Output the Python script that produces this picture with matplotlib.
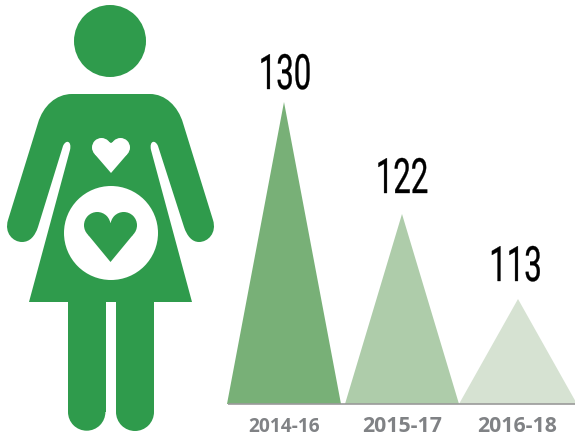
import matplotlib
matplotlib.use("Agg")
import matplotlib.pyplot as plt
from matplotlib.patches import Circle, PathPatch, Polygon, Rectangle
from matplotlib.patheffects import AbstractPathEffect
from matplotlib.path import Path
from matplotlib.transforms import Affine2D

# Data
periods = ["2014-16", "2015-17", "2016-18"]
values = [130, 122, 113]
# drawn heights of the triangles, not proportional to the values in the original
heights = [302, 190, 105]
centers = [284, 402, 518]
half_widths = [57, 57, 59]
colors = ["#78b077", "#aeccaa", "#d6e2d2"]

# text placement
number_x = [285, 402, 515.5]
number_y = [89, 193, 281]
label_x = [284, 402, 517]
label_y = [427, 426, 426]
label_sizes = [13.8, 15.3, 15.3]

green = "#2f9b4c"

fig = plt.figure(figsize=(5.75, 4.42), dpi=100)
ax = fig.add_axes([0, 0, 1, 1])
ax.set_xlim(0, 575)
ax.set_ylim(442, 0)
ax.axis("off")


# squeezes text sideways, the numbers in the original are a condensed face
class Squeeze(AbstractPathEffect):
    def __init__(self, cx, sx, lw):
        super().__init__()
        self.cx = cx
        self.sx = sx
        self.lw = lw

    def draw_path(self, renderer, gc, tpath, affine, rgbFace=None):
        squeeze = Affine2D().translate(-self.cx, 0).scale(self.sx, 1).translate(self.cx, 0)
        gc.set_linewidth(self.lw)
        gc.set_foreground("black")
        renderer.draw_path(gc, tpath, affine + squeeze, rgbFace)


def heart(cx, top, notch, bottom, half, color):
    r = half / 2
    cy = top + r
    ax.add_patch(Circle((cx - r, cy), r, fc=color, ec="none", zorder=5))
    ax.add_patch(Circle((cx + r, cy), r, fc=color, ec="none", zorder=5))
    k = r * 0.707
    ax.add_patch(Polygon([(cx, bottom), (cx - r - k, cy + k), (cx - r, cy), (cx - r * 0.35, top + r * 0.35),
                          (cx, notch), (cx + r * 0.35, top + r * 0.35), (cx + r, cy), (cx + r + k, cy + k)],
                         fc=color, ec="none", zorder=5))


# Figure of the woman
ax.add_patch(Circle((110, 41), 36, fc=green, ec="none"))

body = [
    (72, 94), (150, 94),
    (165, 94), (178, 106), (183, 123),
    (213, 220),
    (217, 233), (208, 242), (199, 242),
    (192, 242), (187, 236), (184, 227),
    (158, 146),
    (155, 139), (149, 141), (151, 150),
    (192, 302), (29, 302), (70, 150),
    (72, 141), (66, 139), (63, 146),
    (38, 227),
    (35, 236), (30, 242), (22, 242),
    (13, 242), (4, 233), (8, 220),
    (38, 123),
    (43, 106), (56, 94), (72, 94),
]
body_codes = [Path.MOVETO, Path.LINETO,
              Path.CURVE4, Path.CURVE4, Path.CURVE4,
              Path.LINETO,
              Path.CURVE4, Path.CURVE4, Path.CURVE4,
              Path.CURVE4, Path.CURVE4, Path.CURVE4,
              Path.LINETO,
              Path.CURVE4, Path.CURVE4, Path.CURVE4,
              Path.LINETO, Path.LINETO, Path.LINETO,
              Path.CURVE4, Path.CURVE4, Path.CURVE4,
              Path.LINETO,
              Path.CURVE4, Path.CURVE4, Path.CURVE4,
              Path.CURVE4, Path.CURVE4, Path.CURVE4,
              Path.LINETO,
              Path.CURVE4, Path.CURVE4, Path.CURVE4]
ax.add_patch(PathPatch(Path(body, body_codes), fc=green, ec="none"))

# legs
ax.add_patch(Rectangle((68, 300), 37.5, 112, fc=green, ec="none"))
ax.add_patch(Circle((86.7, 412), 18.7, fc=green, ec="none"))
ax.add_patch(Rectangle((116, 300), 38, 112, fc=green, ec="none"))
ax.add_patch(Circle((135, 412), 19, fc=green, ec="none"))

ax.add_patch(Circle((111, 233), 47, fc="white", ec="none", zorder=4))
heart(111, 138, 143, 173, 19, "white")
heart(110.5, 212, 223, 262, 26.5, green)

# Triangles
baseline = 404
for c, hw, h, col in zip(centers, half_widths, heights, colors):
    ax.add_patch(Polygon([(c - hw, baseline), (c, baseline - h), (c + hw, baseline)], fc=col, ec="none"))

for x, y, val in zip(number_x, number_y, values):
    x_px = ax.transData.transform((x, 0))[0]
    ax.text(x, y, str(val), ha="center", va="baseline",
            fontsize=35, family="Roboto", color="black",
            path_effects=[Squeeze(x_px, 0.64, 0.25)])

ax.plot([228, 575], [baseline, baseline], color="#9a9a9a", lw=1.2, solid_capstyle="butt")

for x, y, p, s in zip(label_x, label_y, periods, label_sizes):
    ax.text(x, y, p, ha="center", va="center", fontsize=s, fontweight="bold",
            family="Open Sans", color="#808285")

fig.savefig("out.png", dpi=100)
